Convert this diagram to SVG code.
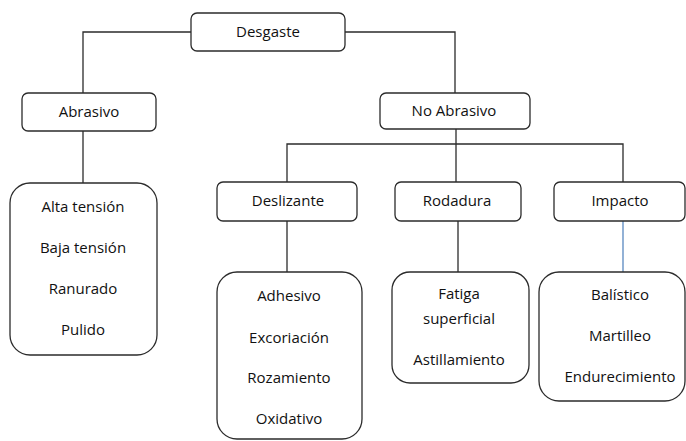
<svg xmlns="http://www.w3.org/2000/svg" width="686" height="441" viewBox="0 0 686 441">
<style>
.box{fill:#fff;stroke:#2b2b2b;stroke-width:1.3}
.ln{fill:none;stroke:#2b2b2b;stroke-width:1.3}
.blue{fill:none;stroke:#4a7ebb;stroke-width:1.2}
text{font-family:"Open Sans","Liberation Sans",sans-serif;font-size:15px;fill:#111;text-anchor:middle;dominant-baseline:central}
</style>
<rect width="686" height="441" fill="#fff"/>
<g id="connectors">
<path class="ln" d="M191 32H83V93"/>
<path class="ln" d="M345 32H455V93"/>
<path class="ln" d="M456 129V182"/>
<path class="ln" d="M287 182V144H623V182"/>
<path class="ln" d="M83 131V183"/>
<path class="ln" d="M287 221V272"/>
<path class="ln" d="M458 221V272"/>
<path class="blue" d="M623 221V272"/>
</g>
<g id="desgaste"><rect class="box" x="191" y="13" width="154" height="38" rx="6"/><text x="268" y="31">Desgaste</text></g>
<g id="abrasivo"><rect class="box" x="22" y="93" width="134" height="38" rx="6"/><text x="89" y="111">Abrasivo</text></g>
<g id="no-abrasivo"><rect class="box" x="380" y="93" width="150" height="36" rx="6"/><text x="454" y="110">No Abrasivo</text></g>
<g id="deslizante"><rect class="box" x="217" y="182" width="140" height="39" rx="6"/><text x="288" y="200">Deslizante</text></g>
<g id="rodadura"><rect class="box" x="395" y="182" width="126" height="39" rx="6"/><text x="457" y="200">Rodadura</text></g>
<g id="impacto"><rect class="box" x="554" y="182" width="131" height="39" rx="6"/><text x="620" y="200">Impacto</text></g>
<g id="abrasivo-tipos"><rect class="box" x="10" y="183" width="147" height="172" rx="20"/>
<text x="83" y="206">Alta tensión</text><text x="83" y="247">Baja tensión</text><text x="83" y="288">Ranurado</text><text x="83" y="329">Pulido</text></g>
<g id="deslizante-tipos"><rect class="box" x="217" y="272" width="145" height="167" rx="20"/>
<text x="289" y="295">Adhesivo</text><text x="289" y="337">Excoriación</text><text x="289" y="377">Rozamiento</text><text x="289" y="418">Oxidativo</text></g>
<g id="rodadura-tipos"><rect class="box" x="392" y="272" width="137" height="111" rx="18"/>
<text x="459" y="293">Fatiga</text><text x="459" y="318">superficial</text><text x="459" y="359">Astillamiento</text></g>
<g id="impacto-tipos"><rect class="box" x="539" y="272" width="146" height="129" rx="20"/>
<text x="620" y="294">Balístico</text><text x="620" y="335">Martilleo</text><text x="620" y="376">Endurecimiento</text></g>
</svg>
